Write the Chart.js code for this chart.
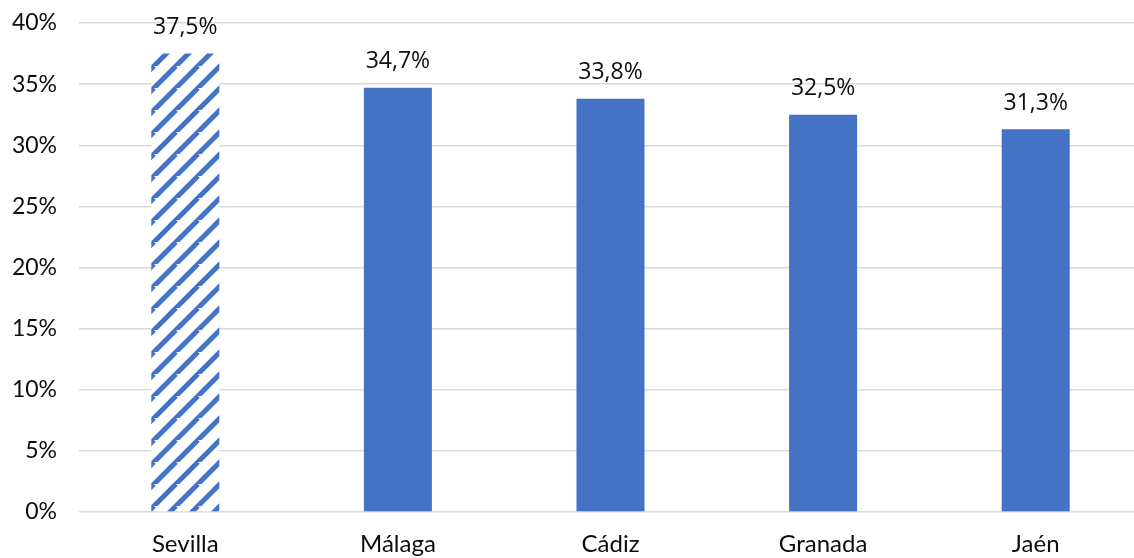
<!DOCTYPE html>
<html>
<head>
<meta charset="utf-8">
<script src="https://cdn.jsdelivr.net/npm/chart.js@4.4.0/dist/chart.umd.min.js"></script>
<style>
    body { margin: 0; overflow: hidden; background: #fff; }
    #wrap { width: 1142px; height: 558px; }
</style>
</head>
<body>
<div id="wrap"><canvas id="provChart"></canvas></div>
<script>
const provincias = ['Sevilla', 'Málaga', 'Cádiz', 'Granada', 'Jaén'];
const porcentajes = [37.5, 34.7, 33.8, 32.5, 31.3];
const ticksEje = [0, 5, 10, 15, 20, 25, 30, 35, 40];

const azul = '#4472c4';

// trama de rayas diagonales para la primera barra
function crearRayas() {
    const t = 22;
    const c = document.createElement('canvas');
    c.width = t;
    c.height = t;
    const g = c.getContext('2d');
    g.fillStyle = '#fff';
    g.fillRect(0, 0, t, t);
    g.strokeStyle = azul;
    g.lineWidth = 5;
    g.beginPath();
    for (let k = -t; k <= 2 * t; k += t) {
        g.moveTo(k - t, 2 * t);
        g.lineTo(k + t, 0);
    }
    g.stroke();
    return g.createPattern(c, 'repeat');
}

const rayas = crearRayas();
const colores = porcentajes.map((v, i) => i === 0 ? rayas : azul);

// etiquetas de valor encima de cada barra
const etiquetas = {
    id: 'etiquetas',
    afterDatasetsDraw(chart) {
        const ctx = chart.ctx;
        const meta = chart.getDatasetMeta(0);
        ctx.save();
        ctx.font = '23px "Open Sans", sans-serif';
        ctx.fillStyle = '#0d0d0d';
        ctx.textAlign = 'center';
        ctx.textBaseline = 'middle';
        meta.data.forEach((bar, i) => {
            const txt = porcentajes[i].toFixed(1).replace('.', ',') + '%';
            ctx.fillText(txt, bar.x, bar.y - 26);
        });
        ctx.restore();
    }
};

const ctx = document.getElementById('provChart').getContext('2d');
new Chart(ctx, {
    type: 'bar',
    data: {
        labels: provincias,
        datasets: [{
            data: porcentajes,
            backgroundColor: colores,
            borderWidth: 0,
            barPercentage: 0.32,
            categoryPercentage: 1
        }]
    },
    options: {
        responsive: true,
        maintainAspectRatio: false,
        animation: false,
        layout: { padding: { top: 23, right: 0, bottom: 0, left: 0 } },
        plugins: {
            legend: { display: false },
            tooltip: { enabled: false }
        },
        scales: {
            x: {
                grid: { display: false, drawTicks: false },
                border: { display: false },
                ticks: {
                    color: '#0d0d0d',
                    font: { family: 'Lato, sans-serif', size: 24 },
                    padding: 18
                },
                afterFit: s => { s.height = 46; s.paddingLeft = 0; s.paddingRight = 0; }
            },
            y: {
                min: 0,
                max: 40,
                afterBuildTicks: s => { s.ticks = ticksEje.map(v => ({ value: v })); },
                grid: { color: '#d9d9d9', lineWidth: 1.5, drawTicks: false },
                border: { display: false },
                ticks: {
                    color: '#0d0d0d',
                    font: { family: 'Lato, sans-serif', size: 23 },
                    padding: 22,
                    callback: v => v + '%'
                },
                afterFit: s => { s.width = 79; s.paddingTop = 0; s.paddingBottom = 0; }
            }
        }
    },
    plugins: [etiquetas]
});
</script>
</body>
</html>
